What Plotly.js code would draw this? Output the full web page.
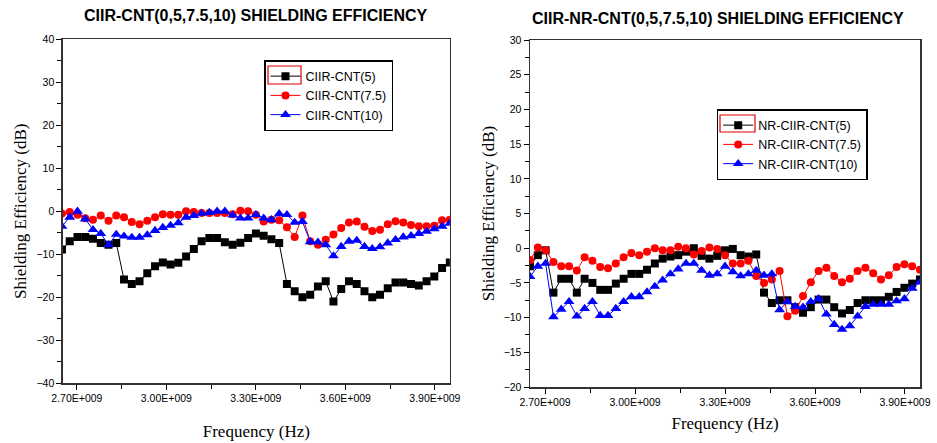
<!DOCTYPE html>
<html>
<head>
<meta charset="utf-8">
<script src="https://cdn.plot.ly/plotly-3.0.1.min.js"></script>
<style>
html,body{margin:0;padding:0;background:#fff;}
#chart{width:937px;height:443px;}
</style>
</head>
<body>
<div id="chart"></div>
<script>
// Frequency in GHz (labels shown as Hz in E-notation)
const freq = [2.650,2.676,2.702,2.728,2.754,2.780,2.806,2.832,2.858,2.884,2.910,2.936,2.962,2.988,3.014,3.040,3.066,3.092,3.118,3.144,3.170,3.196,3.222,3.248,3.274,3.300,3.326,3.352,3.378,3.404,3.430,3.456,3.482,3.508,3.534,3.560,3.586,3.612,3.638,3.664,3.690,3.716,3.742,3.768,3.794,3.820,3.846,3.872,3.898,3.924,3.950];

// Left panel: CIIR-CNT
const ciir5 = [-8.9,-7.0,-6.0,-6.0,-6.4,-7.4,-7.8,-7.4,-15.9,-16.9,-16.3,-14.4,-12.8,-11.9,-12.4,-12.0,-10.5,-8.8,-7.0,-6.2,-6.2,-7.2,-7.8,-7.3,-6.2,-5.2,-5.7,-6.5,-7.4,-16.9,-18.6,-20.0,-19.4,-17.5,-16.3,-21.0,-18.1,-16.3,-16.9,-18.6,-20.0,-19.4,-17.9,-16.6,-16.6,-16.9,-17.3,-16.3,-15.2,-13.2,-11.9];
const ciir75 = [-0.5,-0.2,-0.8,-1.6,-2.0,-1.0,-2.2,-1.0,-1.4,-2.5,-3.0,-2.2,-1.4,-0.7,-0.8,-0.8,0.0,-0.2,-0.4,-0.4,-0.4,-0.4,-0.7,0.1,0.0,-0.8,-2.4,-2.0,-2.1,-3.7,-6.0,-1.0,-7.0,-7.8,-6.6,-5.4,-3.9,-2.6,-2.4,-3.6,-4.6,-4.3,-3.0,-2.3,-2.6,-3.2,-3.5,-3.5,-3.4,-2.1,-2.0];
const ciir10 = [-3.5,-1.4,0.0,-1.8,-4.3,-5.2,-7.8,-5.4,-5.8,-6.1,-6.1,-5.5,-4.5,-3.8,-3.3,-2.7,-1.4,-1.0,-0.5,-0.3,0.0,0.0,-0.9,-1.6,-1.6,-0.8,-1.6,-2.0,-0.6,-0.8,-2.6,-2.4,-7.1,-7.2,-7.8,-10.4,-8.2,-7.0,-6.8,-8.2,-8.7,-8.3,-7.4,-6.6,-6.0,-5.7,-5.2,-4.7,-4.1,-3.5,-2.8];

// Right panel: NR-CIIR-CNT
const nr5 = [-2.6,-1.0,-0.3,-6.4,-4.4,-4.4,-6.4,-4.4,-5.0,-6.0,-6.0,-5.1,-4.4,-3.7,-3.7,-3.1,-2.2,-1.5,-1.2,-1.0,-0.5,0.0,-1.1,-1.5,-1.1,-0.3,-0.1,-1.0,-1.2,-0.9,-6.4,-7.9,-7.5,-7.5,-8.5,-9.3,-8.5,-7.4,-7.4,-8.5,-9.4,-8.9,-7.9,-7.5,-7.5,-7.5,-7.0,-6.3,-5.7,-5.1,-4.5];
const nr75 = [-1.7,0.1,-0.3,-2.0,-2.6,-2.6,-3.2,-1.3,-1.8,-2.7,-2.9,-2.2,-1.3,-0.7,-1.0,-0.5,0.0,-0.3,-0.3,0.2,0.0,-0.9,-0.4,0.1,-0.1,-1.0,-2.2,-2.2,-1.8,-4.0,-5.0,-4.5,-3.3,-9.8,-9.0,-6.9,-4.9,-3.3,-2.8,-4.0,-4.9,-4.4,-3.3,-2.8,-3.6,-4.5,-3.9,-2.7,-2.3,-2.6,-3.1];
const nr10 = [-4.1,-2.6,-2.2,-9.9,-8.8,-7.7,-9.8,-8.7,-7.7,-9.7,-9.7,-8.7,-7.7,-7.0,-7.0,-6.3,-5.5,-4.6,-3.7,-3.0,-2.2,-2.2,-3.2,-3.9,-3.7,-2.6,-3.4,-4.0,-3.7,-3.2,-3.9,-3.7,-8.9,-7.7,-8.4,-8.5,-7.7,-7.3,-9.5,-11.0,-11.7,-11.2,-9.8,-8.4,-8.1,-8.1,-8.1,-7.6,-7.3,-5.8,-4.9];

const names5 = ['CIIR-CNT(5)', 'CIIR-CNT(7.5)', 'CIIR-CNT(10)'];
const namesNR = ['NR-CIIR-CNT(5)', 'NR-CIIR-CNT(7.5)', 'NR-CIIR-CNT(10)'];
const xTickVals = [2.7, 3.0, 3.3, 3.6, 3.9];
const xTickText = ['2.70E+009', '3.00E+009', '3.30E+009', '3.60E+009', '3.90E+009'];
const titles = ['CIIR-CNT(0,5,7.5,10) SHIELDING EFFICIENCY', 'CIIR-NR-CNT(0,5,7.5,10) SHIELDING EFFICIENCY'];

const colors = ['#000000', '#ff0000', '#0000ff'];
const symbols = ['square', 'circle', 'triangle-up'];
const msize = [8, 8, 9.5];

function tr(y, name, k, xa, ya, leg) {
  return {
    x: freq, y: y, name: name, type: 'scatter', mode: 'lines+markers',
    xaxis: xa, yaxis: ya, legend: leg,
    line: {color: colors[k], width: 1},
    marker: {color: colors[k], symbol: symbols[k], size: msize[k], line: {width: 0}}
  };
}

const data = [
  tr(ciir5, names5[0], 0, 'x', 'y', 'legend'),
  tr(ciir75, names5[1], 1, 'x', 'y', 'legend'),
  tr(ciir10, names5[2], 2, 'x', 'y', 'legend'),
  tr(nr5, namesNR[0], 0, 'x2', 'y2', 'legend2'),
  tr(nr75, namesNR[1], 1, 'x2', 'y2', 'legend2'),
  tr(nr10, namesNR[2], 2, 'x2', 'y2', 'legend2')
];

const tickFont = {family: 'Liberation Sans, Arial, sans-serif', size: 10.5, color: '#000'};
const axTitleFont = {family: 'Liberation Serif, Times New Roman, serif', size: 17, color: '#000'};

function xax(domain, range, standoff) {
  return {
    domain: domain, range: range, tickmode: 'array', tickvals: xTickVals, ticktext: xTickText,
    ticks: 'outside', ticklen: 5, tickwidth: 1, tickcolor: '#000',
    minor: {dtick: 0.15, tick0: 2.7, ticks: 'outside', ticklen: 4, tickcolor: '#000', tickwidth: 1},
    showline: true, linecolor: '#333', linewidth: 1.5, mirror: true, showgrid: false, zeroline: false,
    tickfont: tickFont,
    title: {text: 'Frequency (Hz)', font: axTitleFont, standoff: standoff}
  };
}
function yax(domain, range, dtick, anchor, standoff) {
  return {
    domain: domain, range: range, dtick: dtick, tick0: 0, anchor: anchor,
    ticks: 'outside', ticklen: 5, tickwidth: 1, tickcolor: '#000',
    minor: {dtick: dtick / 2, ticks: 'outside', ticklen: 4, tickcolor: '#000', tickwidth: 1},
    showline: true, linecolor: '#333', linewidth: 1.5, mirror: true, showgrid: false, zeroline: false,
    tickfont: tickFont,
    title: {text: 'Shielding Efficiency (dB)', font: axTitleFont, standoff: standoff}
  };
}

const legendCommon = {
  bgcolor: 'rgba(255,255,255,0)', bordercolor: '#000', borderwidth: 1.5,
  font: {family: 'Liberation Sans, Arial, sans-serif', size: 12.5, color: '#000'},
  xanchor: 'left', yanchor: 'top', tracegroupgap: 0, itemwidth: 30
};

// red highlight boxes drawn around the first legend symbol in the original figure
function px2paperX(p) { return (p - 62) / 858; }
function px2paperY(p) { return (387 - p) / 348; }
const hlBox = (x0, x1, y0, y1) => ({type: 'rect', xref: 'paper', yref: 'paper',
  x0: px2paperX(x0), x1: px2paperX(x1), y0: px2paperY(y1), y1: px2paperY(y0),
  line: {color: '#e00000', width: 1.2}, fillcolor: 'rgba(0,0,0,0)', layer: 'above'});

const layout = {
  width: 937, height: 443,
  margin: {l: 62, r: 17, t: 39, b: 56},
  paper_bgcolor: '#fff', plot_bgcolor: '#fff',
  showlegend: true,
  xaxis: Object.assign(xax([0.001, 0.452], [2.653, 3.950], 22), {anchor: 'y'}),
  yaxis: yax([0.011, 0.999], [-40, 40], 10, 'x', 5),
  xaxis2: Object.assign(xax([0.5455, 1], [2.65, 3.95], 10), {anchor: 'y2'}),
  yaxis2: yax([0, 0.997], [-20, 30], 5, 'x2', 4),
  legend: Object.assign({x: px2paperX(264), y: px2paperY(60)}, legendCommon),
  legend2: Object.assign({x: px2paperX(716.7), y: px2paperY(109)}, legendCommon),
  shapes: [hlBox(268, 301, 66, 84), hlBox(720, 755, 115, 132)],
  annotations: [
    {text: '<b>' + titles[0] + '</b>', xref: 'paper', yref: 'paper', x: px2paperX(255), y: 1.0, yshift: 24,
     xanchor: 'center', yanchor: 'middle', showarrow: false,
     font: {family: 'Liberation Sans, Arial, sans-serif', size: 16, color: '#000'}},
    {text: '<b>' + titles[1] + '</b>', xref: 'paper', yref: 'paper', x: px2paperX(718), y: 1.0, yshift: 21,
     xanchor: 'center', yanchor: 'middle', showarrow: false,
     font: {family: 'Liberation Sans, Arial, sans-serif', size: 16, color: '#000'}}
  ]
};

Plotly.newPlot('chart', data, layout, {staticPlot: true, displayModeBar: false});
</script>
</body>
</html>
